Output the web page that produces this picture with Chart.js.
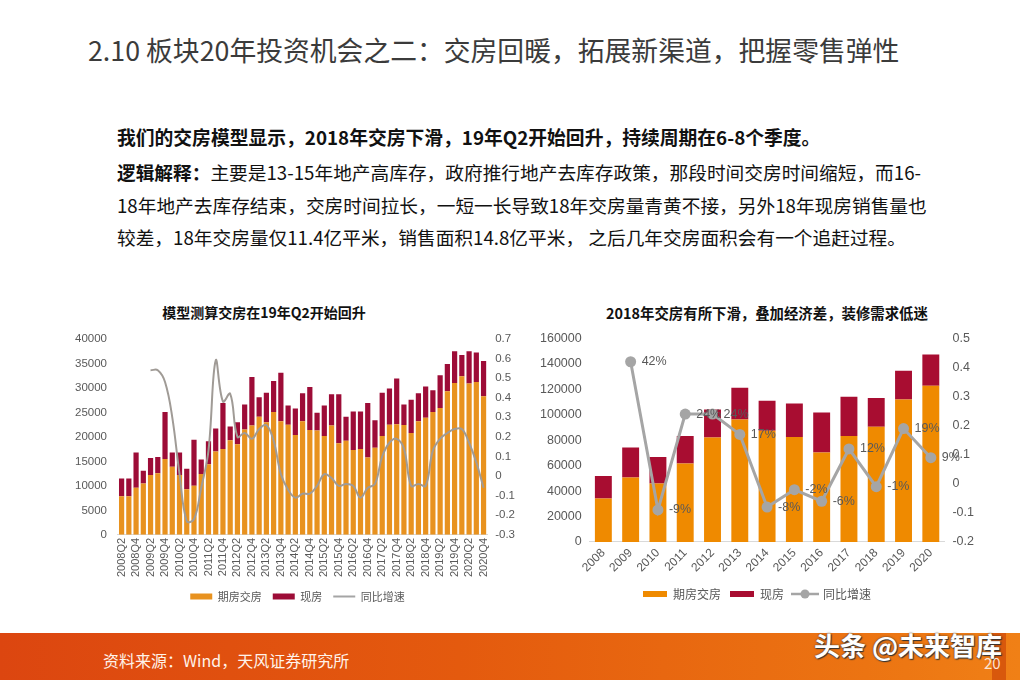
<!DOCTYPE html>
<html>
<head>
<meta charset="utf-8">
<script src="https://cdn.jsdelivr.net/npm/chart.js@4.4.1/dist/chart.umd.min.js"></script>
<style>
  body { margin: 0; background: #fff; }
  #page { position: relative; width: 1020px; height: 680px; overflow: hidden; background: #fff;
          font-family: "Noto Sans CJK SC", "Liberation Sans", sans-serif; }
  .title { position: absolute; left: 88px; top: 33px; font-size: 26.8px; line-height: 34px; color: #3b3b3b; white-space: nowrap; }
  .lead { position: absolute; left: 117px; top: 120px; font-size: 18.8px; line-height: 33px; font-weight: bold; color: #111; white-space: nowrap; }
  .para { position: absolute; left: 117px; top: 156px; font-size: 18.7px; line-height: 32.5px; color: #111; white-space: nowrap; }
  .para b { font-weight: bold; }
  .ctitle { position: absolute; top: 302px; font-weight: bold; color: #111; text-align: center; white-space: nowrap; }
  canvas { position: absolute; }
  #footer { position: absolute; left: 0; top: 633px; width: 1020px; height: 47px;
            background: linear-gradient(90deg, #dc4610 0%, #e45a0e 45%, #ec7412 85%, #f08016 100%); }
  #stripe { position: absolute; right: 14px; top: 633px; width: 14px; height: 47px; background: #d8580c; }
  #source { position: absolute; left: 103px; top: 650px; font-size: 16px; line-height: 20px; color: #fff3ea; }
  #mark { position: absolute; left: 814px; top: 629px; font-size: 26px; line-height: 32px; font-weight: bold; color: #fff;
          text-shadow: 0 0 2px #333, 1px 1px 1px #333; white-space: nowrap; }
  #pageno { position: absolute; left: 984px; top: 652px; font-size: 15px; color: #fde3cf; }
</style>
</head>
<body>
<div id="page">
  <div class="title">2.10 板块20年投资机会之二：交房回暖，拓展新渠道，把握零售弹性</div>
  <div class="lead">我们的交房模型显示，2018年交房下滑，19年Q2开始回升，持续周期在6-8个季度。</div>
  <div class="para"><b>逻辑解释：</b>主要是13-15年地产高库存，政府推行地产去库存政策，那段时间交房时间缩短，而16-<br>18年地产去库存结束，交房时间拉长，一短一长导致18年交房量青黄不接，另外18年现房销售量也<br>较差，18年交房量仅11.4亿平米，销售面积14.8亿平米， 之后几年交房面积会有一个追赶过程。</div>

  <div class="ctitle" style="left:114px;width:300px;font-size:14px;">模型测算交房在19年Q2开始回升</div>
  <div class="ctitle" style="left:567px;width:400px;font-size:14.4px;">2018年交房有所下滑，叠加经济差，装修需求低迷</div>

  <canvas id="qChart" width="467" height="288" style="left:68px;top:324px;"></canvas>
  <canvas id="yChart" width="470" height="287" style="left:530px;top:323px;"></canvas>

  <div id="footer"></div>
  <div id="stripe"></div>
  <div id="source">资料来源：Wind，天风证券研究所</div>
  <div id="mark">头条 @未来智库</div>
  <div id="pageno">20</div>
</div>

<script>
// 季度数据（左图）
const quarters = [
  '2008Q2','2008Q3','2008Q4','2009Q1','2009Q2','2009Q3','2009Q4','2010Q1','2010Q2','2010Q3','2010Q4',
  '2011Q1','2011Q2','2011Q3','2011Q4','2012Q1','2012Q2','2012Q3','2012Q4','2013Q1','2013Q2','2013Q3','2013Q4',
  '2014Q1','2014Q2','2014Q3','2014Q4','2015Q1','2015Q2','2015Q3','2015Q4','2016Q1','2016Q2','2016Q3','2016Q4',
  '2017Q1','2017Q2','2017Q3','2017Q4','2018Q1','2018Q2','2018Q3','2018Q4','2019Q1','2019Q2','2019Q3','2019Q4',
  '2020Q1','2020Q2','2020Q3','2020Q4'
];
const qPresale = [
  7900, 7900, 9600, 10500, 12200, 12600, 15500, 13900, 12200, 9300, 10000,
  12400, 14400, 17000, 17500, 19300, 18500, 21500, 22300, 24100, 23000, 25100, 23200,
  22500, 20400, 23200, 21400, 21300, 20200, 22300, 18700, 19200, 17300, 17500, 15800,
  17800, 20200, 22500, 22600, 22400, 20800, 23200, 23900, 25100, 25900, 29300, 31000,
  32400, 30900, 31200, 28300
];
const qExisting = [
  3600, 3600, 7200, 2600, 3500, 3300, 9600, 2900, 4600, 4200, 9400,
  3000, 4700, 4700, 9400, 2800, 4500, 5100, 9900, 4000, 6000, 6300, 9900,
  3900, 5400, 5700, 8800, 3600, 6200, 6400, 10000, 4900, 7900, 7700, 11100,
  5600, 8800, 7400, 9300, 4200, 6800, 5700, 6400, 4400, 6700, 5600, 6500,
  4300, 6600, 6000, 7200
];
const qGrowth = [
  null, null, null, null, 0.54, 0.54, 0.48, 0.30, 0.01, -0.23, -0.22,
  -0.06, 0.13, 0.59, 0.38, 0.42, 0.20, 0.22, 0.19, 0.24, 0.26, 0.18, 0.01,
  -0.07, -0.11, -0.09, -0.09, -0.05, 0.01, -0.01, -0.05, -0.04, -0.05, -0.11, -0.06,
  -0.04, 0.10, 0.17, 0.19, 0.14, -0.05, -0.04, -0.05, 0.13, 0.19, 0.22, 0.24,
  0.24, 0.17, 0.07, -0.06
];

// 年度数据（右图）
const years = ['2008','2009','2010','2011','2012','2013','2014','2015','2016','2017','2018','2019','2020'];
const yPresale = [34100, 50600, 45900, 61600, 82100, 96300, 87400, 82600, 70300, 83400, 90500, 112000, 122800];
const yExisting = [17800, 23600, 21000, 21800, 22000, 24900, 23600, 26200, 31500, 30700, 22800, 22600, 24600];
const yGrowth = [null, 0.42, -0.09, 0.24, 0.24, 0.17, -0.08, -0.02, -0.06, 0.12, -0.01, 0.19, 0.09];

const numFont = '"Liberation Sans", Arial, sans-serif';
const cjkFont = '"Noto Sans CJK SC", "Liberation Sans", sans-serif';
const tickColor = '#595959';
const lineGray = '#a5a5a5';

// 图例里“线+圆点”的小图
const dotLine = document.createElement('canvas');
dotLine.width = 28; dotLine.height = 12;
(() => {
  const c = dotLine.getContext('2d');
  c.strokeStyle = lineGray; c.lineWidth = 2.5;
  c.beginPath(); c.moveTo(0, 6); c.lineTo(28, 6); c.stroke();
  c.fillStyle = lineGray;
  c.beginPath(); c.arc(14, 6, 4.5, 0, Math.PI * 2); c.fill();
})();

function legendOpts(linePoint, size, boxW, pad) {
  return {
    position: 'bottom',
    labels: {
      color: tickColor,
      font: { family: cjkFont, size },
      usePointStyle: true,
      pointStyleWidth: boxW,
      boxHeight: 6,
      padding: pad,
      sort: (a, b) => a.datasetIndex - b.datasetIndex,
      generateLabels(chart) {
        const items = Chart.defaults.plugins.legend.labels.generateLabels(chart);
        items.forEach(it => {
          const ds = chart.data.datasets[it.datasetIndex];
          if (ds.type === 'line') {
            it.pointStyle = linePoint;
            it.strokeStyle = lineGray;
            it.lineWidth = 2;
          } else {
            it.pointStyle = 'rect';
            it.lineWidth = 0;
          }
        });
        return items;
      }
    }
  };
}

function fmtRatio(v) {
  const r = Math.round(v * 10) / 10;
  return r === 0 ? '0' : String(r);
}

// 左图：季度
new Chart(document.getElementById('qChart'), {
  data: {
    labels: quarters,
    datasets: [
      { type: 'bar', label: '期房交房', data: qPresale, backgroundColor: '#e8921f', borderWidth: 0,
        barPercentage: 0.72, categoryPercentage: 1, order: 1 },
      { type: 'bar', label: '现房', data: qExisting, backgroundColor: '#9d0c37', borderWidth: 0,
        barPercentage: 0.72, categoryPercentage: 1, order: 1 },
      { type: 'line', label: '同比增速', data: qGrowth, yAxisID: 'y1', borderColor: '#a09b96',
        backgroundColor: lineGray, borderWidth: 2, pointRadius: 0, tension: 0.4, order: 0 }
    ]
  },
  options: {
    responsive: false,
    animation: false,
    layout: { padding: { left: 4, right: 12, top: 0, bottom: 0 } },
    plugins: { legend: legendOpts('line', 11, 22, 11), tooltip: { enabled: false } },
    scales: {
      x: {
        stacked: true,
        grid: { display: false, drawTicks: false },
        border: { display: true, color: '#d9d9d9' },
        ticks: {
          autoSkip: false, minRotation: 90, maxRotation: 90, padding: 3,
          color: tickColor, font: { family: numFont, size: 11 },
          callback(value, index) { return index % 2 === 0 ? this.getLabelForValue(value) : ''; }
        }
      },
      y: {
        stacked: true, min: 0, max: 40000,
        grid: { display: false }, border: { display: false },
        ticks: { stepSize: 5000, color: tickColor, font: { family: numFont, size: 11.5 }, callback: v => String(v) }
      },
      y1: {
        position: 'right', min: -0.3, max: 0.7,
        grid: { display: false, drawTicks: false }, border: { display: false },
        ticks: { stepSize: 0.1, color: tickColor, font: { family: numFont, size: 11.5 }, padding: 8, callback: fmtRatio }
      }
    }
  }
});

// 右图百分比标签
const pctLabels = {
  id: 'pctLabels',
  afterDatasetsDraw(chart) {
    const meta = chart.getDatasetMeta(2);
    const ctx = chart.ctx;
    ctx.save();
    ctx.font = '12.5px ' + numFont;
    ctx.fillStyle = tickColor;
    ctx.textBaseline = 'middle';
    meta.data.forEach((pt, i) => {
      const v = yGrowth[i];
      if (v === null) return;
      ctx.fillText(Math.round(v * 100) + '%', pt.x + 11, pt.y);
    });
    ctx.restore();
  }
};

// 右图：年度
new Chart(document.getElementById('yChart'), {
  data: {
    labels: years,
    datasets: [
      { type: 'bar', label: '期房交房', data: yPresale, backgroundColor: '#ef8a00', borderWidth: 0,
        barPercentage: 0.62, categoryPercentage: 1, order: 1 },
      { type: 'bar', label: '现房', data: yExisting, backgroundColor: '#a80d31', borderWidth: 0,
        barPercentage: 0.62, categoryPercentage: 1, order: 1 },
      { type: 'line', label: '同比增速', data: yGrowth, yAxisID: 'y1', borderColor: lineGray,
        backgroundColor: lineGray, borderWidth: 3, pointRadius: 5.5, pointBackgroundColor: lineGray,
        pointBorderWidth: 0, tension: 0, order: 0 }
    ]
  },
  options: {
    responsive: false,
    animation: false,
    layout: { padding: { left: 2, right: 18, top: 0, bottom: 0 } },
    plugins: { legend: legendOpts(dotLine, 12, 24, 9), tooltip: { enabled: false } },
    scales: {
      x: {
        stacked: true,
        grid: { display: false, drawTicks: false },
        border: { display: true, color: '#d9d9d9' },
        ticks: { autoSkip: false, minRotation: 45, maxRotation: 45, padding: 4, color: tickColor, font: { family: numFont, size: 12 } }
      },
      y: {
        stacked: true, min: 0, max: 160000,
        grid: { display: false, drawTicks: false }, border: { display: false },
        ticks: { stepSize: 20000, color: tickColor, font: { family: numFont, size: 12.5 }, padding: 8, callback: v => String(v) }
      },
      y1: {
        position: 'right', min: -0.2, max: 0.5,
        grid: { display: false, drawTicks: false }, border: { display: false },
        ticks: { stepSize: 0.1, color: tickColor, font: { family: numFont, size: 12.5 }, padding: 8, callback: fmtRatio }
      }
    }
  },
  plugins: [pctLabels]
});
</script>
</body>
</html>
